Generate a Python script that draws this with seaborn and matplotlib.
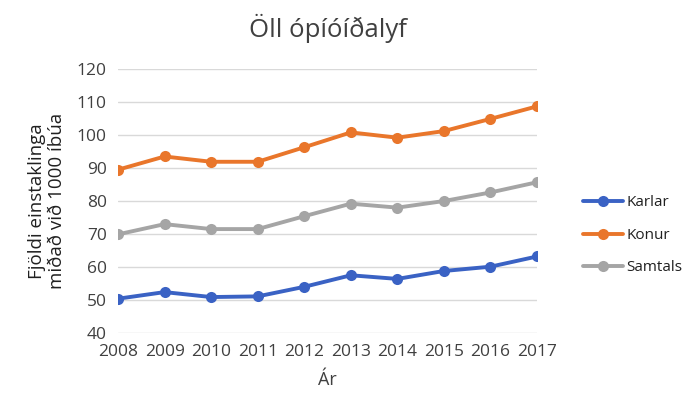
import pandas as pd
import matplotlib
matplotlib.use("Agg")
import matplotlib.pyplot as plt
import seaborn as sns

# Values
years = [2008, 2009, 2010, 2011, 2012, 2013, 2014, 2015, 2016, 2017]
karlar = [50.4, 52.4, 50.9, 51.1, 54.0, 57.5, 56.4, 58.8, 60.1, 63.2]
konur = [89.5, 93.5, 91.9, 91.9, 96.3, 100.8, 99.2, 101.2, 104.9, 108.7]
samtals = [69.9, 73.0, 71.5, 71.5, 75.4, 79.2, 78.0, 80.0, 82.6, 85.7]
series_names = ["Karlar", "Konur", "Samtals"]
colors = ["#3A62C4", "#E9762B", "#A5A5A5"]

df = pd.DataFrame({"Ár": years, "Karlar": karlar, "Konur": konur, "Samtals": samtals})
long_df = df.melt(id_vars="Ár", var_name="Hópur", value_name="Fjöldi")

sns.set_style("white")
plt.rcParams["font.family"] = ["Open Sans", "DejaVu Sans"]

fig = plt.figure(figsize=(7, 4.17), dpi=100)
ax = fig.add_axes([0.1686, 0.2014, 0.5986, 0.633])

sns.lineplot(data=long_df, x="Ár", y="Fjöldi", hue="Hópur", hue_order=series_names,
             palette=colors, marker="o", markersize=8, markeredgewidth=0,
             linewidth=2.8, ax=ax)

ax.set_xlim(2008, 2017)
ax.set_ylim(40, 120)
ax.set_xticks(years)
ax.set_yticks(range(40, 121, 10))
ax.tick_params(axis="both", length=0, labelsize=12.5, colors="#404040", pad=8)
ax.yaxis.grid(True, color="#D9D9D9", linewidth=1)
ax.set_axisbelow(True)
for s in ax.spines.values():
    s.set_visible(False)

ax.set_title("Öll ópíóíðalyf", fontsize=18.5, color="#404040", pad=23)
ax.set_xlabel("Ár", fontsize=13, color="#404040", labelpad=8)
ax.set_ylabel("Fjöldi einstaklinga\nmiðað við 1000 íbúa", fontsize=13.5,
              color="#202020", labelpad=8, linespacing=1.1)

leg = ax.legend(loc="center left", bbox_to_anchor=(1.11, 0.37), frameon=False,
                fontsize=11, handlelength=2.6, labelspacing=1.15, handletextpad=0.25,
                borderaxespad=0, borderpad=0)
for t in leg.get_texts():
    t.set_color("#202020")

fig.savefig("out.png", dpi=100)
